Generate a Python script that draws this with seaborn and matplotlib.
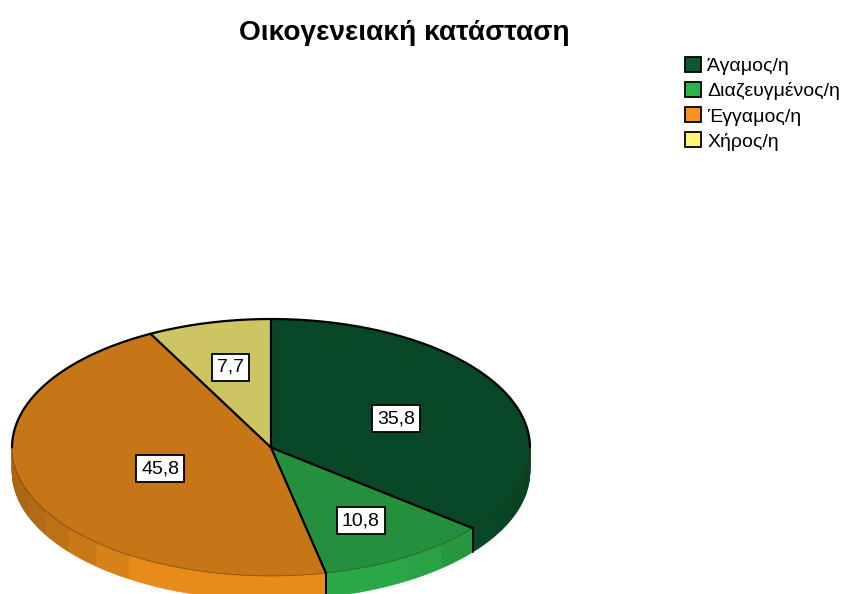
import numpy as np
import pandas as pd
import seaborn as sns
import matplotlib
matplotlib.use("Agg")
import matplotlib.pyplot as plt
from matplotlib.patches import Patch

title = "Οικογενειακή κατάσταση"
categories = ["Άγαμος/η", "Διαζευγμένος/η", "Έγγαμος/η", "Χήρος/η"]
values = [35.8, 10.8, 45.7, 7.7]
value_labels = ["35,8", "10,8", "45,8", "7,7"]
base_colors = ["#0b5a2f", "#2db34b", "#f7941d", "#fff679"]
label_radius = [0.535, 0.66, 0.456, 0.65]

sns.set_theme(style="white")
plt.rcParams["font.family"] = ["Liberation Sans", "DejaVu Sans"]
df = pd.DataFrame({"category": categories, "value": values, "label": value_labels})
palette = sns.color_palette(base_colors)

W, H = 842, 594
CX, CY, RX, RY, DEPTH = 271, 447.5, 259, 128.5, 24

fig = plt.figure(figsize=(W / 100, H / 100), dpi=100)
ax = fig.add_axes([0, 0, 1, 1])
d = DEPTH / RY


def shade(c, f):
    return tuple(min(1, x * f) for x in c)


def side_factor(phi):
    cs = np.cos(phi)
    if cs < 0:
        return min(0.94, 0.68 + 0.5 * (1 + cs))
    return min(0.94, 0.72 + 0.45 * (1 - cs))


# side wall: the pie repeated below its top, with shaded bands per slice
sub_vals, sub_cols = [], []
cum = 0.0
total = df["value"].sum()
for v, c in zip(df["value"], palette):
    n = max(1, int(round(v * 3.6 / 9)))
    for i in range(n):
        mid = cum + (i + 0.5) * v / n
        phi = np.pi / 2 - 2 * np.pi * mid / total
        f = side_factor(phi)
        if c == palette[0]:
            f = min(f, 0.8)
        sub_vals.append(v / n)
        sub_cols.append(shade(c, f))
    cum += v

for k in np.linspace(d, 0, 25):
    wedges, _ = ax.pie(sub_vals, colors=sub_cols, startangle=90, counterclock=False,
                       center=(0, -k), radius=1,
                       wedgeprops=dict(linewidth=0.4))
    for w in wedges:
        w.set_edgecolor(w.get_facecolor())

# top face
ax.pie(df["value"], colors=[shade(c, 0.8) for c in palette], startangle=90,
       counterclock=False, radius=1,
       wedgeprops=dict(edgecolor="none", linewidth=0))

# outlines
t = np.linspace(0, np.pi, 200)
ax.plot(np.cos(t), np.sin(t), color="black", lw=1.6, solid_capstyle="round")
t2 = np.linspace(np.pi, 2 * np.pi, 200)
ax.plot(np.cos(t2), np.sin(t2), color="#3a2a10", lw=0.5, alpha=0.6)

bounds = np.cumsum(df["value"]) / total
for b in np.r_[0, bounds[:-1]]:
    a = np.pi / 2 - 2 * np.pi * b
    ax.plot([0, np.cos(a)], [0, np.sin(a)], color="black", lw=1.6)
    if np.sin(a) < 0:
        ax.plot([np.cos(a)] * 2, [np.sin(a), np.sin(a) - d], color="black", lw=1.4)

# value labels
mids = (np.r_[0, bounds[:-1]] + bounds) / 2
for m, r, s in zip(mids, label_radius, df["label"]):
    a = np.pi / 2 - 2 * np.pi * m
    ax.text(r * np.cos(a), r * np.sin(a) - 1 / RY, s, ha="center", va="center",
            fontsize=14, color="black", zorder=10,
            bbox=dict(boxstyle="square,pad=0.25", facecolor="white",
                      edgecolor="black", linewidth=1.3))

ax.set_aspect("auto")
ax.set_xlim(-CX / RX, (W - CX) / RX)
ax.set_ylim(-(H - CY) / RY, CY / RY)
ax.axis("off")
sns.despine(ax=ax, left=True, bottom=True)

fig.text(404 / W, 1 - 32.5 / H, title, ha="center", va="center",
         fontsize=20.2, fontweight="bold", color="black")

handles = [Patch(facecolor=c, edgecolor="black", linewidth=1.3) for c in palette]
leg = fig.legend(handles, df["category"], loc="upper left",
                 bbox_to_anchor=(685 / W, 1 - 57 / H), bbox_transform=fig.transFigure,
                 frameon=False, fontsize=14, handlelength=0.84, handleheight=0.84,
                 handletextpad=0.3, labelspacing=0.34, borderpad=0, borderaxespad=0,
                 labelcolor="black")

fig.savefig("out.png", dpi=100, facecolor="white")
